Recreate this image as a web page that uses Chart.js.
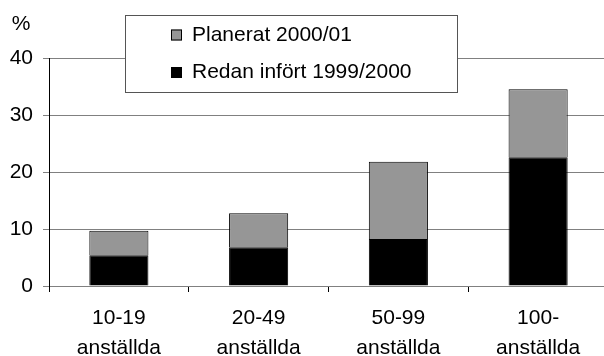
<!DOCTYPE html>
<html>
<head>
<meta charset="utf-8">
<script src="https://cdn.jsdelivr.net/npm/chart.js@4"></script>
<style>
  html, body { margin: 0; padding: 0; background: #fff; overflow: hidden; }
  #wrap { position: relative; width: 608px; height: 356px; }
</style>
</head>
<body>
<div id="wrap"><canvas id="grafico"></canvas></div>
<script>
// Kategorier (företagsstorlek)
const kategorier = [
  ["10-19", "anställda"],
  ["20-49", "anställda"],
  ["50-99", "anställda"],
  ["100-", "anställda"]
];

// Serier, procent
const redanInfort = [5.4, 6.8, 8.25, 22.6];
const planerat = [4.3, 5.95, 13.55, 11.9];

const serieNamn = ["Redan infört 1999/2000", "Planerat 2000/01"];
const yTicks = [0, 10, 20, 30, 40];

const FONT = '"Liberation Sans", Arial, sans-serif';
Chart.defaults.font.family = FONT;
Chart.defaults.font.size = 21;
Chart.defaults.color = "#000";

// Legend i ram + "%" ovanför y-axeln
const ramLegend = {
  id: "ramLegend",
  afterDraw(chart) {
    const ctx = chart.ctx;
    ctx.save();
    ctx.fillStyle = "#fff";
    ctx.fillRect(125.5, 15.5, 332, 77);
    ctx.strokeStyle = "#555";
    ctx.lineWidth = 1;
    ctx.strokeRect(125.5, 15.5, 332, 77);

    const poster = chart.data.datasets.slice().reverse();
    ctx.font = "21px " + FONT;
    ctx.textBaseline = "alphabetic";
    ctx.textAlign = "left";
    poster.forEach((ds, i) => {
      const bas = 40.5 + i * 37.5;
      ctx.fillStyle = ds.backgroundColor;
      ctx.fillRect(171, bas - 11, 11, 11);
      ctx.strokeStyle = "#000";
      ctx.strokeRect(171.5, bas - 10.5, 10, 10);
      ctx.fillStyle = "#000";
      ctx.fillText(ds.label, 192, bas);
    });

    ctx.textAlign = "center";
    ctx.fillText("%", 21, 30);
    ctx.restore();
  }
};

new Chart(document.getElementById("grafico"), {
  type: "bar",
  data: {
    labels: kategorier,
    datasets: [
      {
        label: serieNamn[0],
        data: redanInfort,
        backgroundColor: "#000000",
        borderColor: "#000000",
        borderWidth: 1
      },
      {
        label: serieNamn[1],
        data: planerat,
        backgroundColor: "#969696",
        borderColor: "#000000",
        borderWidth: 1
      }
    ]
  },
  options: {
    responsive: true,
    maintainAspectRatio: false,
    animation: false,
    layout: { padding: { top: 58, left: 0, right: 0, bottom: 0 } },
    datasets: {
      bar: { categoryPercentage: 1, barPercentage: 0.423 }
    },
    plugins: {
      legend: { display: false },
      tooltip: { enabled: false }
    },
    scales: {
      x: {
        stacked: true,
        afterFit: (s) => { s.height = 70; },
        grid: {
          offset: true,
          drawOnChartArea: false,
          tickLength: 6,
          color: "#000"
        },
        border: { color: "#808080", width: 1 },
        ticks: {
          padding: 12,
          maxRotation: 0,
          autoSkip: false,
          font: { size: 21, lineHeight: 1.4 }
        }
      },
      y: {
        stacked: true,
        min: yTicks[0],
        max: yTicks[yTicks.length - 1],
        afterFit: (s) => { s.width = 49; },
        afterBuildTicks: (s) => { s.ticks = yTicks.map(v => ({ value: v })); },
        grid: {
          color: "#808080",
          lineWidth: 1,
          tickLength: 6
        },
        border: { color: "#000", width: 1 },
        ticks: { padding: 10 }
      }
    }
  },
  plugins: [ramLegend]
});
</script>
</body>
</html>
